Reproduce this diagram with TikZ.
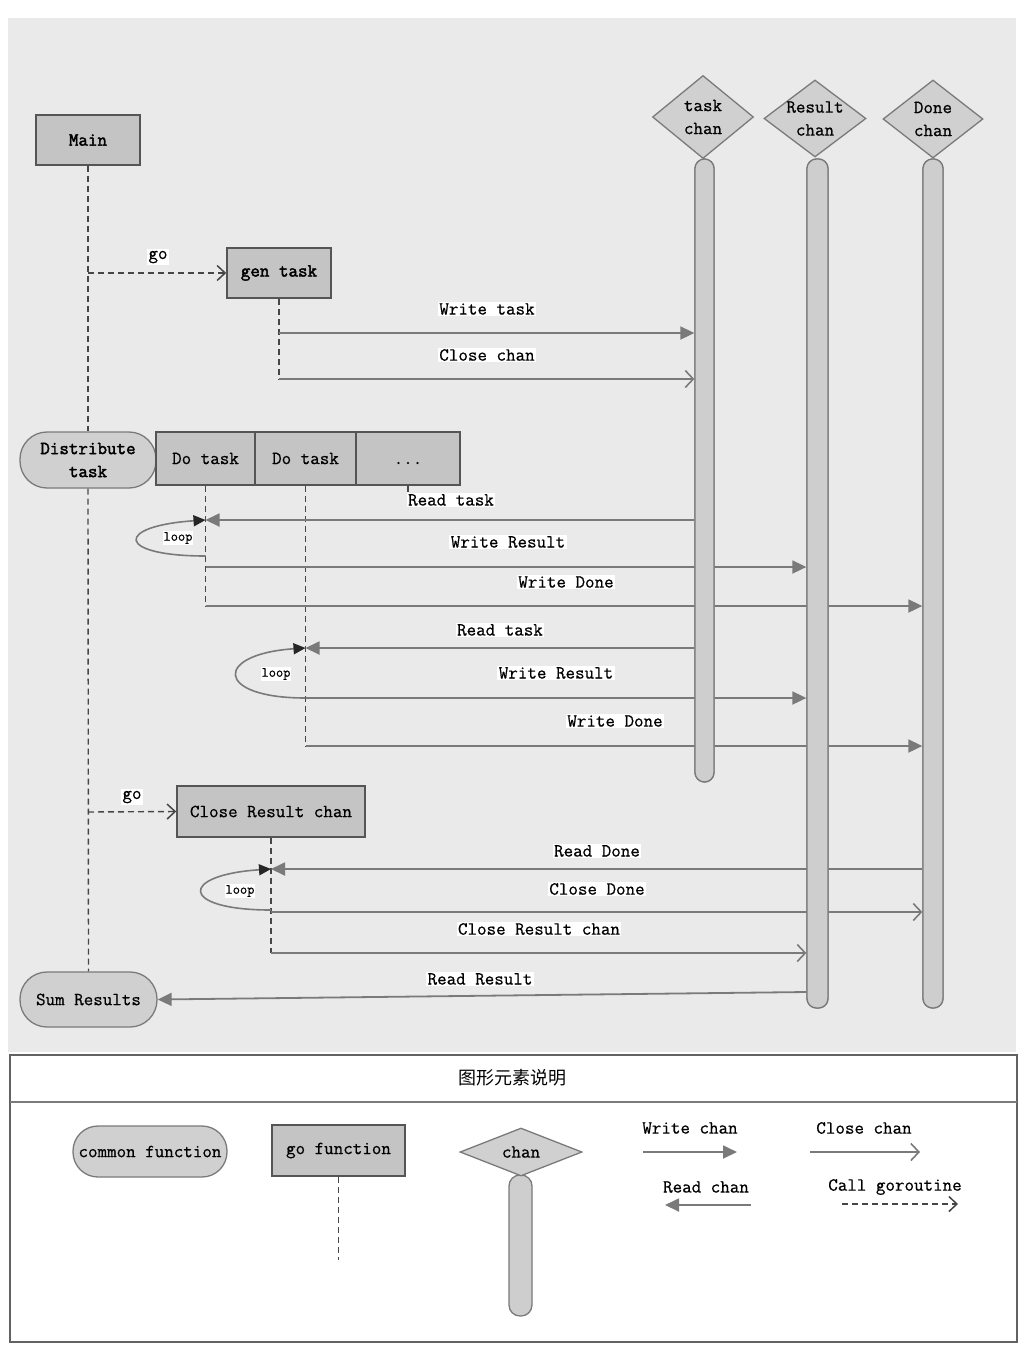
\documentclass[tikz,border=0pt]{standalone}
\usepackage{fontspec}
\setmainfont{Latin Modern Mono}[FakeBold=0.6]
\newfontfamily\heavyfont{Latin Modern Mono}[FakeBold=2.2]
\newfontfamily\cjkfont{Noto Sans CJK SC}
\usetikzlibrary{shapes.geometric,arrows.meta,calc}

\definecolor{paper}{RGB}{234,234,234}
\definecolor{boxfill}{RGB}{196,196,196}
\definecolor{chanfill}{RGB}{208,208,208}
\definecolor{barfill}{RGB}{206,206,206}
\definecolor{edge}{RGB}{85,85,85}
\definecolor{msg}{RGB}{122,122,122}
\definecolor{life}{RGB}{70,70,70}

\tikzset{
  txt/.style={font=\fontsize{18.5}{23}\selectfont},
  heavy/.style={font=\heavyfont\fontsize{18.5}{23}\selectfont},
  gofn/.style={txt, draw=edge, line width=1.6pt, fill=boxfill, inner sep=0pt, minimum height=50pt},
  comfn/.style={txt, draw=msg, line width=1.3pt, fill=chanfill, inner sep=0pt, rounded corners=27pt, align=center},
  chan/.style={diamond, draw=msg, line width=1.3pt, fill=chanfill, inner sep=0pt},
  chantext/.style={txt, align=center, inner sep=0pt},
  chanbar/.style={draw=msg, line width=1.3pt, fill=barfill, inner sep=0pt, rounded corners=9.5pt},
  lifeline/.style={draw=life, line width=1.4pt, dash pattern=on 6pt off 4pt},
  msgline/.style={draw=msg, line width=1.8pt},
  wr/.style={msgline, -{Triangle[length=14pt,width=13pt]}},
  rd/.style={msgline, {Triangle[length=14pt,width=13pt]}-},
  cl/.style={msgline, -{Straight Barb[length=8pt,width=17pt,line width=1.6pt]}},
  callgo/.style={lifeline, -{Straight Barb[length=8pt,width=15pt,line width=1.5pt]}},
  loopln/.style={msgline, line width=1.6pt, -{Triangle[length=12pt,width=11pt,color=black!85]}},
  lbl/.style={txt, fill=white, inner sep=1.5pt},
  looplbl/.style={font=\fontsize{14}{16}\selectfont, fill=white, inner sep=1pt},
}

\begin{document}
\begin{tikzpicture}[x=1pt,y=-1pt]
\useasboundingbox (0,0) rectangle (1028,1350);
\fill[white] (0,0) rectangle (1028,1350);
\fill[paper] (8,18) rectangle (1016,1052);

% ---------- processes ----------
\node[gofn, minimum width=104pt, heavy] (main) at (88,140) {Main};
\node[gofn, minimum width=104pt, heavy] (gen) at (279,273) {gen task};
\node[comfn, minimum width=136pt, minimum height=56pt, heavy] (dist) at (88,460) {Distribute\\task};
\node[gofn, minimum width=99pt, minimum height=53pt] (dt1) at (205.5,458.5) {Do task};
\node[gofn, minimum width=101pt, minimum height=53pt] (dt2) at (305.5,458.5) {Do task};
\node[gofn, minimum width=104pt, minimum height=53pt] (dt3) at (408,458.5) {\vphantom{Do}...};
\node[gofn, minimum width=188pt, minimum height=51pt] (crc) at (271,811.5) {Close Result chan};
\node[comfn, minimum width=137pt, minimum height=55pt] (sum) at (88.5,999.5) {Sum Results};

% ---------- lifelines ----------
\draw[lifeline] (main.south) -- (dist.north);
\draw[lifeline] (dist.south) -- (sum.north);
\draw[lifeline] (gen.south) -- (gen.south |- 0,379);
\draw[lifeline] (dt1.south) -- (dt1.south |- 0,606);
\draw[lifeline] (dt2.south) -- (dt2.south |- 0,746);
\draw[lifeline] (dt3.south) -- (dt3.south |- 0,492);
\draw[lifeline] (crc.south) -- (crc.south |- 0,953);

% ---------- goroutine calls ----------
\draw[callgo] (main.south |- 0,273) -- (gen.west);
\draw[callgo] (main.south |- 0,812) -- (crc.west);

% ---------- channel bar outlines, used as anchors ----------
\path (704.5,470.5) node[chanbar, minimum width=19pt, minimum height=623pt] (tb) {};
\path (817.5,583.5) node[chanbar, minimum width=21pt, minimum height=849pt] (rb) {};
\path (933,583.5) node[chanbar, minimum width=20pt, minimum height=849pt] (db) {};

% ---------- messages ----------
\draw[wr] (gen.south |- 0,333) -- (tb.west |- 0,333);
\draw[cl] (gen.south |- 0,379) -- (tb.west |- 0,379);

\draw[rd] (dt1.south |- 0,520) -- (tb.west |- 0,520);
\draw[loopln] (dt1.south |- 0,556) .. controls (115,556) and (115,526) .. (dt1.south |- 0,520);
\draw[wr] (dt1.south |- 0,567) -- (rb.west |- 0,567);
\draw[wr] (dt1.south |- 0,606) -- (db.west |- 0,606);

\draw[rd] (dt2.south |- 0,648) -- (tb.west |- 0,648);
\draw[loopln] (dt2.south |- 0,698) .. controls (214,698) and (214,654) .. (dt2.south |- 0,648);
\draw[wr] (dt2.south |- 0,698) -- (rb.west |- 0,698);
\draw[wr] (dt2.south |- 0,746) -- (db.west |- 0,746);

\draw[rd] (crc.south |- 0,869) -- (db.west |- 0,869);
\draw[loopln] (crc.south |- 0,910) .. controls (179,910) and (179,875) .. (crc.south |- 0,869);
\draw[cl] (crc.south |- 0,912) -- (db.west |- 0,912);
\draw[cl] (crc.south |- 0,953) -- (rb.west |- 0,953);
\draw[wr] (rb.west |- 0,992) -- (sum.east);

% ---------- channels ----------
\node[chanbar, minimum width=19pt, minimum height=623pt] (tbar) at (tb) {};
\node[chanbar, minimum width=21pt, minimum height=849pt] (rbar) at (rb) {};
\node[chanbar, minimum width=20pt, minimum height=849pt] (dbar) at (db) {};
\node[chan, minimum width=101pt, minimum height=83pt] (tc) at (703,117) {};
\node[chantext] (tct) at (tc) {task\\chan};
\node[chan, minimum width=102pt, minimum height=77pt] (rc) at (815,118.5) {};
\node[chantext] (rct) at (rc) {Result\\chan};
\node[chan, minimum width=100pt, minimum height=78pt] (dc) at (933,119) {};
\node[chantext] (dct) at (dc) {Done\\chan};

% ---------- labels ----------
\node[lbl] (lgo1) at (158,257) {go};
\node[lbl] (lwt) at (487,309) {Write task};
\node[lbl] (lcc) at (487,355) {Close chan};
\node[lbl] (lrt1) at (451,500) {Read task};
\node[looplbl] (lp1) at (178,538) {loop};
\node[lbl] (lwr1) at (508,542) {Write Result};
\node[lbl] (lwd1) at (566,582) {Write Done};
\node[lbl] (lrt2) at (500,630) {Read task};
\node[looplbl] (lp2) at (276,674) {loop};
\node[lbl] (lwr2) at (556,673) {Write Result};
\node[lbl] (lwd2) at (615,721) {Write Done};
\node[lbl] (lgo2) at (132,797) {go};
\node[lbl] (lrd) at (597,851) {Read Done};
\node[looplbl] (lp3) at (240,891) {loop};
\node[lbl] (lcd) at (597,889) {Close Done};
\node[lbl] (lcr) at (539,929) {Close Result chan};
\node[lbl] (lrr) at (480,979) {Read Result};

% ---------- legend ----------
\draw[draw=msg!80!black, line width=1.5pt] (10,1055) rectangle (1017,1342);
\draw[draw=msg, line width=1.3pt] (10,1102) -- (1017,1102);
\node[font=\cjkfont\fontsize{18}{20}\selectfont] (ltitle) at (512,1078) {图形元素说明};

\node[comfn, minimum width=154pt, minimum height=51pt, rounded corners=25pt] (kcom) at (150,1151.5) {common function};
\node[gofn, minimum width=133pt, minimum height=51pt] (kgo) at (338.5,1150.5) {go function};
\draw[lifeline] (kgo.south) -- (kgo.south |- 0,1260);
\node[chanbar, minimum width=23pt, minimum height=141pt, rounded corners=11pt] (kbar) at (520.5,1245.5) {};
\node[chan, minimum width=122pt, minimum height=48pt] (kchan) at (521,1152) {};
\node[chantext] (kchant) at (kchan) {chan};

\node[txt] (kwl) at (690,1128) {Write chan};
\coordinate (kw1) at (643,1152); \coordinate (kw2) at (737,1152);
\draw[wr] (kw1) -- (kw2);
\node[txt] (kcl) at (864,1128) {Close chan};
\coordinate (kc1) at (810,1152); \coordinate (kc2) at (920,1152);
\draw[cl] (kc1) -- (kc2);
\node[txt] (krl) at (706,1187) {Read chan};
\coordinate (kr1) at (665,1205); \coordinate (kr2) at (751,1205);
\draw[rd] (kr1) -- (kr2);
\node[txt] (kgl) at (895,1187) {Call goroutine};
\coordinate (kg1) at (842,1204); \coordinate (kg2) at (958,1204);
\draw[callgo] (kg1) -- (kg2);
\end{tikzpicture}
\end{document}
